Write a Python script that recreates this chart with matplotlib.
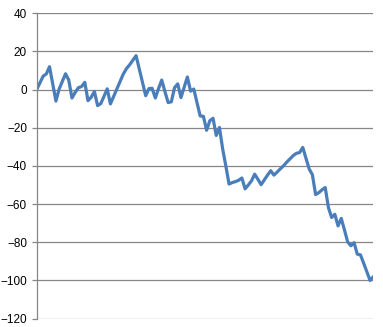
import matplotlib
matplotlib.use("Agg")
import matplotlib.pyplot as plt
import numpy as np

# series (one value per category)
values = [
    0, 3.5, 7, 8.2, 12, 3, -6, 0.3, 4.3, 8.3,
    5, -4.4, -1.5, 1, 1.6, 3.8, -5.8, -4, -1, -8.4,
    -7.3, -3.5, 0.4, -7.5, -3.6, 0.3, 4.2, 8.1, 11, 13,
    15.4, 17.8, 10.8, 3.8, -3.2, 0.5, 0.7, -4.4, 0.5, 5,
    -1, -6.8, -6.4, 1, 3, -4.2, 1.2, 6.6, -0.8, 0.3,
    -6.8, -13.8, -14, -21.3, -16.3, -15, -24, -19.8, -31, -40,
    -49.5, -48.7, -48.2, -47.5, -46.3, -52, -50, -47.8, -44.3, -47,
    -49.8, -47.3, -44.8, -42.5, -44.8, -43.2, -41.5, -39.9, -38, -36.3,
    -34.6, -33.4, -33, -30.3, -36, -41.6, -44.6, -55, -54, -52.5,
    -51.3, -61.8, -67, -65.3, -71.4, -67.5, -73.5, -79.8, -81.8, -80.2,
    -86.2, -86.6, -91, -95.5, -100, -98,
]
y_ticks = [40, 20, 0, -20, -40, -60, -80, -100, -120]

grid_col = "#868686"
line_col = "#4a7ebb"

fig = plt.figure(figsize=(3.83, 3.27), dpi=100)
ax = fig.add_axes([0.0958, 0.0255, 0.8789, 0.934])

x = np.arange(len(values))
ax.plot(x, values, color=line_col, linewidth=2.3,
        solid_joinstyle="round", solid_capstyle="round")

ax.set_xlim(0, len(values) - 1)
ax.set_ylim(-120, 40)
ax.set_yticks(y_ticks)
ax.set_xticks([])

for t in y_ticks:
    ax.axhline(t, color=grid_col, linewidth=0.9, zorder=0)

for side in ["top", "right", "bottom"]:
    ax.spines[side].set_visible(False)
ax.spines["left"].set_color(grid_col)
ax.spines["left"].set_linewidth(0.9)

ax.tick_params(axis="y", direction="out", length=3.5, width=0.9,
               color=grid_col, pad=3.5, labelsize=8.5)
for lab in ax.get_yticklabels():
    lab.set_fontfamily("Liberation Sans")

fig.savefig("out.png", dpi=100)
